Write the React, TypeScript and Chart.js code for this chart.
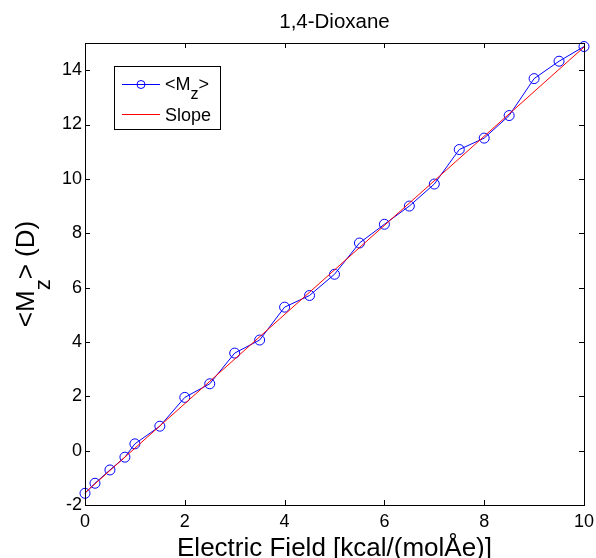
import React, { useEffect, useRef } from "react";
import { Chart, registerables } from "chart.js";

Chart.register(...registerables);

const fieldX = [0, 0.2, 0.5, 0.8, 1, 1.5, 2, 2.5, 3, 3.5, 4, 4.5, 5, 5.5, 6, 6.5, 7, 7.5, 8, 8.5, 9, 9.5, 10];
const mzY = [-1.57, -1.2, -0.71, -0.24, 0.25, 0.9, 1.96, 2.46, 3.59, 4.07, 5.28, 5.71, 6.49, 7.64, 8.33, 9.0, 9.81, 11.08, 11.5, 12.33, 13.69, 14.33, 14.87];
const slopeX = [0, 10];
const slopeY = [-1.55, 14.85];
const xTicks = [0, 2, 4, 6, 8, 10];
const yTicks = [-2, 0, 2, 4, 6, 8, 10, 12, 14];
const titleText = "1,4-Dioxane";
const xTitle = "Electric Field [kcal/(molÅe)]";

const FONT = "Arial, 'Liberation Sans', sans-serif";

const framePlugin = {
  id: "frame",
  afterDraw(chart: any) {
    const ctx = chart.ctx;
    const { left, right, top, bottom } = chart.chartArea;
    const xs = chart.scales.x;
    const ys = chart.scales.y;
    ctx.save();
    ctx.strokeStyle = "#000";
    ctx.lineWidth = 1;
    ctx.strokeRect(Math.round(left) + 0.5, Math.round(top) + 0.5, Math.round(right - left), Math.round(bottom - top));
    const tl = 5;
    ctx.beginPath();
    xTicks.forEach((v) => {
      const px = Math.round(xs.getPixelForValue(v)) + 0.5;
      ctx.moveTo(px, bottom);
      ctx.lineTo(px, bottom - tl);
      ctx.moveTo(px, top);
      ctx.lineTo(px, top + tl);
    });
    yTicks.forEach((v) => {
      const py = Math.round(ys.getPixelForValue(v)) + 0.5;
      ctx.moveTo(left, py);
      ctx.lineTo(left + tl, py);
      ctx.moveTo(right, py);
      ctx.lineTo(right - tl, py);
    });
    ctx.stroke();

    // title
    ctx.fillStyle = "#000";
    ctx.font = `20.5px ${FONT}`;
    ctx.textAlign = "center";
    ctx.textBaseline = "alphabetic";
    ctx.fillText(titleText, (left + right) / 2, 28);

    // x title
    ctx.font = `26px ${FONT}`;
    ctx.fillText(xTitle, (left + right) / 2, 556);

    // y title with subscript
    ctx.save();
    ctx.translate(34, (top + bottom) / 2);
    ctx.rotate(-Math.PI / 2);
    const big = `26px ${FONT}`;
    const small = `22px ${FONT}`;
    const parts = [
      { t: "<M", f: big, dy: 0 },
      { t: "z", f: small, dy: 16 },
      { t: "> (D)", f: big, dy: 0 },
    ];
    let total = 0;
    parts.forEach((p) => {
      ctx.font = p.f;
      total += ctx.measureText(p.t).width;
    });
    let cx = -total / 2;
    ctx.textAlign = "left";
    parts.forEach((p) => {
      ctx.font = p.f;
      ctx.fillText(p.t, cx, p.dy);
      cx += ctx.measureText(p.t).width;
    });
    ctx.restore();

    // legend
    const lx = 114, ly = 66, lw = 106, lh = 63;
    ctx.fillStyle = "#fff";
    ctx.fillRect(lx, ly, lw, lh);
    ctx.strokeStyle = "#000";
    ctx.lineWidth = 1;
    ctx.strokeRect(lx + 0.5, ly + 0.5, lw, lh);
    const r1 = 84, r2 = 114;
    ctx.beginPath();
    ctx.strokeStyle = "#0000ff";
    ctx.moveTo(122, r1 + 0.5);
    ctx.lineTo(160, r1 + 0.5);
    ctx.stroke();
    ctx.beginPath();
    ctx.arc(141, r1 + 0.5, 4, 0, Math.PI * 2);
    ctx.stroke();
    ctx.beginPath();
    ctx.strokeStyle = "#ff0000";
    ctx.moveTo(122, r2 + 0.5);
    ctx.lineTo(160, r2 + 0.5);
    ctx.stroke();
    ctx.fillStyle = "#000";
    ctx.textBaseline = "alphabetic";
    ctx.textAlign = "left";
    ctx.font = `18px ${FONT}`;
    let tx = 165;
    ctx.fillText("<M", tx, r1 + 6);
    tx += ctx.measureText("<M").width;
    ctx.font = `16px ${FONT}`;
    ctx.fillText("z", tx, r1 + 15);
    tx += ctx.measureText("z").width;
    ctx.font = `18px ${FONT}`;
    ctx.fillText(">", tx, r1 + 6);
    ctx.fillText("Slope", 165, r2 + 7);
    ctx.restore();
  },
};

export default function App() {
  const ref = useRef<HTMLCanvasElement | null>(null);
  useEffect(() => {
    document.body.style.margin = "0";
    const canvas = ref.current!;
    const chart = new Chart(canvas, {
      type: "line",
      data: {
        datasets: [
          {
            label: "<Mz>",
            data: fieldX.map((x, i) => ({ x, y: mzY[i] })),
            borderColor: "#0000ff",
            borderWidth: 1,
            pointStyle: "circle",
            pointRadius: 5,
            pointBorderWidth: 1,
            pointBorderColor: "#0000ff",
            pointBackgroundColor: "rgba(0,0,0,0)",
            tension: 0,
            order: 1,
          },
          {
            label: "Slope",
            data: slopeX.map((x, i) => ({ x, y: slopeY[i] })),
            borderColor: "#ff0000",
            borderWidth: 1,
            pointRadius: 0,
            tension: 0,
            order: 0,
          },
        ],
      },
      options: {
        responsive: false,
        animation: false,
        clip: false,
        layout: { padding: { top: 43, right: 12, left: 0, bottom: 0 } },
        plugins: { legend: { display: false }, tooltip: { enabled: false }, title: { display: false } },
        scales: {
          x: {
            type: "linear",
            min: 0,
            max: 10,
            afterBuildTicks: (s: any) => {
              s.ticks = xTicks.map((v) => ({ value: v }));
            },
            afterFit: (s: any) => {
              s.height = 53;
              s.paddingLeft = 0;
              s.paddingRight = 0;
            },
            grid: { display: false, drawTicks: false },
            border: { display: false },
            ticks: { color: "#000", font: { family: FONT, size: 18 }, padding: 6, maxRotation: 0 },
          },
          y: {
            type: "linear",
            min: -2,
            max: 15,
            afterBuildTicks: (s: any) => {
              s.ticks = yTicks.map((v) => ({ value: v }));
            },
            afterFit: (s: any) => {
              s.width = 85;
              s.paddingTop = 0;
              s.paddingBottom = 0;
            },
            grid: { display: false, drawTicks: false },
            border: { display: false },
            ticks: { color: "#000", font: { family: FONT, size: 18 }, padding: 3 },
          },
        },
      } as any,
      plugins: [framePlugin],
    });
    return () => chart.destroy();
  }, []);
  return <canvas ref={ref} width={596} height={558} style={{ display: "block" }} />;
}
